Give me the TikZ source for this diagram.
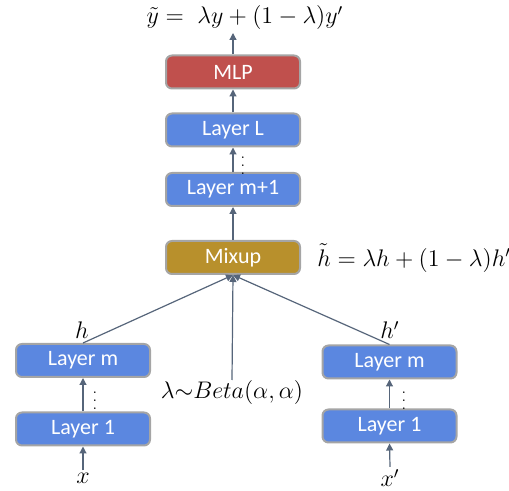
\documentclass[tikz,border=0pt]{standalone}
\usepackage{fontspec}
\setsansfont{Carlito}
\usetikzlibrary{arrows.meta}
\definecolor{boxblue}{HTML}{5B87E0}
\definecolor{mlpred}{HTML}{C0504D}
\definecolor{mixgold}{HTML}{B8902C}
\definecolor{bordergray}{HTML}{A5A5A5}
\definecolor{arrowgray}{HTML}{56657A}
\begin{document}
\begin{tikzpicture}[x=0.5pt,y=-0.5pt,
  layerbox/.style={draw=bordergray, line width=1pt, rounded corners=3pt, minimum width=67pt, minimum height=16.5pt, font=\sffamily\fontsize{11}{13}\selectfont, text=white, inner sep=0pt},
  arr/.style={draw=arrowgray, line width=0.6pt, -{Triangle[width=3.5pt,length=3.5pt]}},
  lbl/.style={inner sep=0pt, font=\fontsize{12}{14}\selectfont},
  dotsnode/.style={inner sep=0pt, font=\fontsize{7}{8}\selectfont}]
\useasboundingbox (0,0) rectangle (509,491);
% main column
\node[layerbox, fill=mlpred] (mlp) at (233,72) {MLP};
\node[layerbox, fill=boxblue] (lL) at (233,130) {Layer L};
\node[layerbox, fill=boxblue] (lm1) at (233,189.5) {Layer m+1};
\node[layerbox, fill=mixgold] (mix) at (233,257.5) {Mixup};
\node[lbl] (yeq) at (245,18) {$\tilde{y} =\; \lambda y + (1-\lambda)y'$};
\coordinate (ytop) at (233,33);
\node[lbl, anchor=west] (heq) at (317,258) {$\tilde{h} = \lambda h + (1-\lambda)h'$};
\node[dotsnode] (d0) at (243,160) {$\vdots$};
% left branch
\node[layerbox, fill=boxblue] (lmL) at (83,360.5) {Layer m};
\node[layerbox, fill=boxblue] (l1L) at (83,429) {Layer 1};
\node[lbl] (xL) at (83,478) {$x$};
\node[lbl] (hL) at (82,330) {$h$};
\node[dotsnode] (dL) at (95,395) {$\vdots$};
% right branch
\node[layerbox, fill=boxblue] (lmR) at (389.5,362) {Layer m};
\node[layerbox, fill=boxblue] (l1R) at (389.5,426) {Layer 1};
\node[lbl] (xR) at (390,478) {$x'$};
\node[lbl] (hR) at (390,330) {$h'$};
\node[dotsnode] (dR) at (404,395) {$\vdots$};
% beta
\node[lbl, anchor=north] (beta) at (232,380) {$\lambda{\sim}Beta(\alpha,\alpha)$};
% arrows
\draw[arr] (mlp.north) -- (ytop);
\draw[arr] (lL.north) -- (mlp.south);
\draw[arr] (lm1.north) -- (lL.south);
\draw[arr] (mix.north) -- (lm1.south);
\draw[arr] (lmL.north) -- (mix.south);
\draw[arr] (lmR.north) -- (mix.south);
\draw[arr] (beta.north) -- (mix.south);
\draw[arr] (l1L.north) -- (lmL.south);
\draw[arr] (l1R.north) -- (lmR.south);
\draw[arr] (xL.north) ++(0,-2) coordinate (xLt) (xLt) -- (l1L.south);
\draw[arr] (xR.north) ++(0,-2) coordinate (xRt) (xRt) -- (l1R.south);
\end{tikzpicture}
\end{document}
